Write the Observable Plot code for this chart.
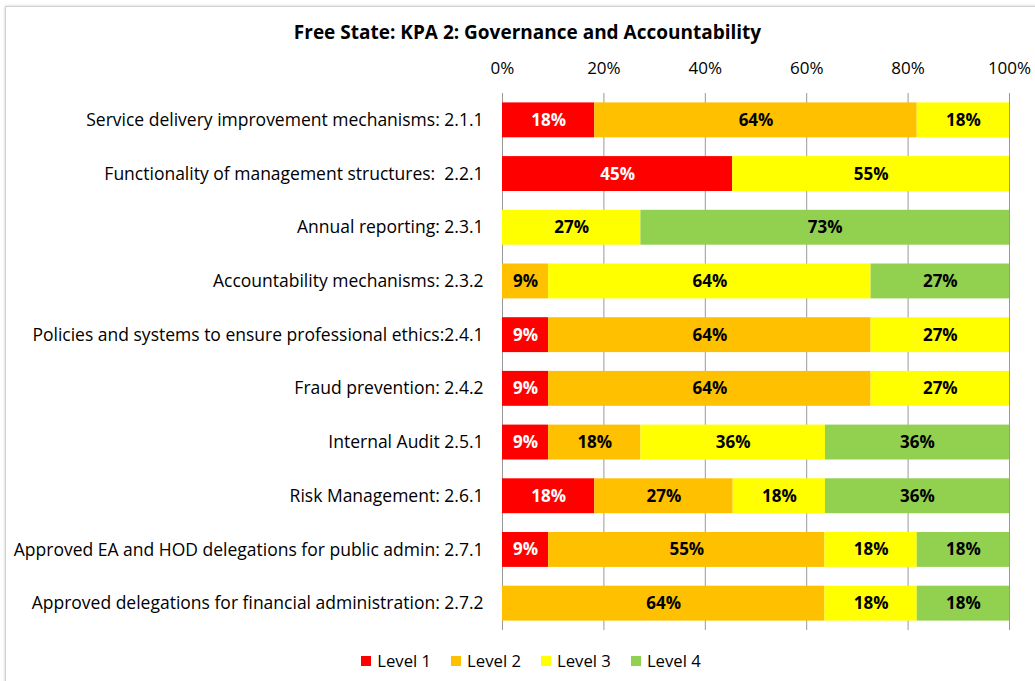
<!DOCTYPE html>
<html>
<head>
<meta charset="utf-8">
<script src="https://cdn.jsdelivr.net/npm/d3@7"></script>
<script src="https://cdn.jsdelivr.net/npm/@observablehq/plot@0.6"></script>
<style>
  html, body { margin: 0; padding: 0; background: #fff; }
  #wrap { position: relative; width: 1035px; height: 681px; overflow: hidden; font-family: "Open Sans", sans-serif; }
  #frame { position: absolute; left: 5px; top: 6px; width: 1100px; height: 800px; border: 1px solid #d0d0d0; box-shadow: 0 0 3px #ccc; }
  #title { position: absolute; left: 0; top: 19px; width: 1055px; text-align: center; font-weight: bold; font-size: 19px; line-height: 26px; color: #000; }
  #chart { position: absolute; left: 0; top: 0; }
  #legend { position: absolute; top: 649px; left: 0; width: 1062px; display: flex; justify-content: center; gap: 20px; font-size: 16.7px; line-height: 24px; color: #000; }
  #legend span.item { display: flex; align-items: center; }
  #legend span.sw { display: inline-block; width: 10px; height: 10px; margin-right: 6px; }
</style>
</head>
<body>
<div id="wrap">
  <div id="frame"></div>
  <div id="chart"></div>
  <div id="title">Free State: KPA 2: Governance and Accountability</div>
  <div id="legend"></div>
</div>
<script>
const categories = [
  "Service delivery improvement mechanisms: 2.1.1",
  "Functionality of management structures:  2.2.1",
  "Annual reporting: 2.3.1",
  "Accountability mechanisms: 2.3.2",
  "Policies and systems to ensure professional ethics:2.4.1",
  "Fraud prevention: 2.4.2",
  "Internal Audit 2.5.1",
  "Risk Management: 2.6.1",
  "Approved EA and HOD delegations for public admin: 2.7.1",
  "Approved delegations for financial administration: 2.7.2"
];
const levels = ["Level 1", "Level 2", "Level 3", "Level 4"];
const level1 = [18.2, 45.4, 0,    0,    9.1,  9.1,  9.1,  18.2, 9.1,  0];
const level2 = [63.6, 0,    0,    9.1,  63.6, 63.6, 18.2, 27.3, 54.5, 63.6];
const level3 = [18.2, 54.6, 27.3, 63.6, 27.3, 27.3, 36.4, 18.2, 18.2, 18.2];
const level4 = [0,    0,    72.7, 27.3, 0,    0,    36.3, 36.3, 18.2, 18.2];
const colors = ["#FF0000", "#FFC000", "#FFFF00", "#92D050"];
const xTicks = [0, 20, 40, 60, 80, 100];

const series = [level1, level2, level3, level4];
const data = [];
categories.forEach((c, i) => {
  series.forEach((s, j) => {
    if (s[i] > 0) data.push({cat: c, level: levels[j], value: s[i]});
  });
});

const chart = Plot.plot({
  width: 1035,
  height: 681,
  marginTop: 93,
  marginBottom: 51,
  marginLeft: 502,
  marginRight: 26,
  style: {fontFamily: "'Open Sans', sans-serif", fontSize: "17px", color: "#000", background: "transparent"},
  x: {domain: [0, 100], label: null},
  y: {domain: categories, paddingInner: 0.35, paddingOuter: 0.175, round: false, label: null},
  color: {domain: levels, range: colors},
  marks: [
    Plot.axisX({anchor: "top", ticks: xTicks, tickFormat: d => d + "%", tickSize: 0, tickPadding: 20, label: null, fontSize: 17}),
    Plot.axisY({anchor: "left", tickSize: 0, tickPadding: 19, label: null, fontSize: 17.5}),
    Plot.ruleX(xTicks, {x: d => d, stroke: "#999", strokeWidth: 1}),
    Plot.barX(data, Plot.stackX({x: "value", y: "cat", fill: "level", order: null})),
    Plot.text(data, Plot.stackX({
      x: "value", y: "cat", z: "level", order: null,
      text: d => Math.round(d.value) + "%",
      fill: d => d.level === "Level 1" ? "#fff" : "#000",
      fontWeight: "bold", fontSize: 17
    }))
  ]
});
document.getElementById("chart").appendChild(chart);

const legend = document.getElementById("legend");
levels.forEach((l, i) => {
  const item = document.createElement("span");
  item.className = "item";
  const sw = document.createElement("span");
  sw.className = "sw";
  sw.style.background = colors[i];
  item.appendChild(sw);
  item.appendChild(document.createTextNode(l));
  legend.appendChild(item);
});
</script>
</body>
</html>
